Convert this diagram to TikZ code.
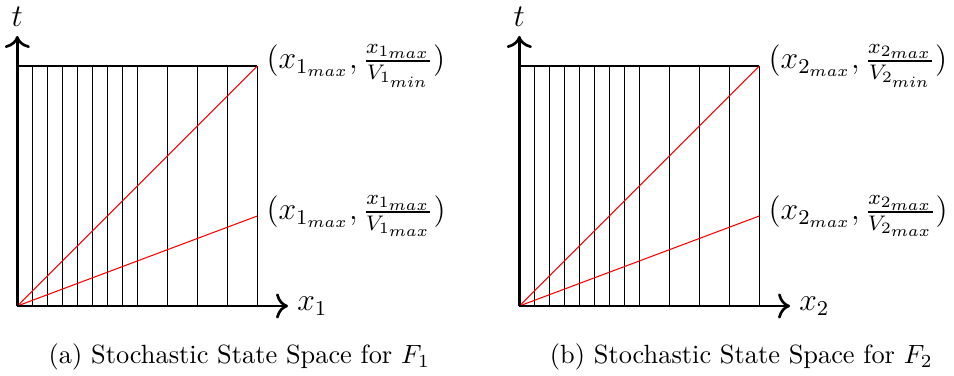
\documentclass[tikz,border=0pt]{standalone}
\usepackage{amsmath}
\usetikzlibrary{arrows.meta,calc,positioning}

\tikzset{
  gridline/.style={black,line width=0.4pt},
  speedline/.style={red,line width=0.4pt},
  axis/.style={-{To[scale=1.2]},black,line width=1pt},
  axlabel/.style={font=\fontsize{11.5}{13.5}\selectfont}
}

\begin{document}
\begin{tikzpicture}[x=0.2cm,y=0.2cm]
  \useasboundingbox (-1.153,-4.667) rectangle (62.45,20.4);
  \foreach \p/\sx/\tag in {1/0/a,2/33.47/b}{
    \begin{scope}[shift={(\sx,0)}]
      \coordinate (o\p) at (0,0);
      \coordinate (top\p) at (16,16);
      \coordinate (low\p) at (16,6);
      \coordinate (xend\p) at (18.05,0);
      \coordinate (tend\p) at (0,18);
      % state space cells
      \foreach \k in {1,...,8,10,12,14,16}
        \draw[gridline] (\k,0) -- (\k,16);
      \draw[gridline] (0,16) -- (top\p);
      % slowest and fastest motion
      \draw[speedline] (o\p) -- (top\p);
      \draw[speedline] (o\p) -- (low\p);
      \draw[axis] (o\p) -- (xend\p);
      \draw[axis] (o\p) -- (tend\p);
      \node[axlabel,right] (xl\p) at (xend\p) {$x_\p$};
      \node[axlabel,above] (tl\p) at (tend\p) {$t$};
      \node[axlabel,right] (hi\p) at (top\p) {$(x_{\p_{max}}, \frac{x_{\p_{max}}}{V_{\p_{min}}})$};
      \node[axlabel,right] (lo\p) at (low\p) {$(x_{\p_{max}}, \frac{x_{\p_{max}}}{V_{\p_{max}}})$};
      \node (cap\p) at (14.8,-3.4) {(\tag) Stochastic State Space for $F_\p$};
    \end{scope}
  }
\end{tikzpicture}
\end{document}
